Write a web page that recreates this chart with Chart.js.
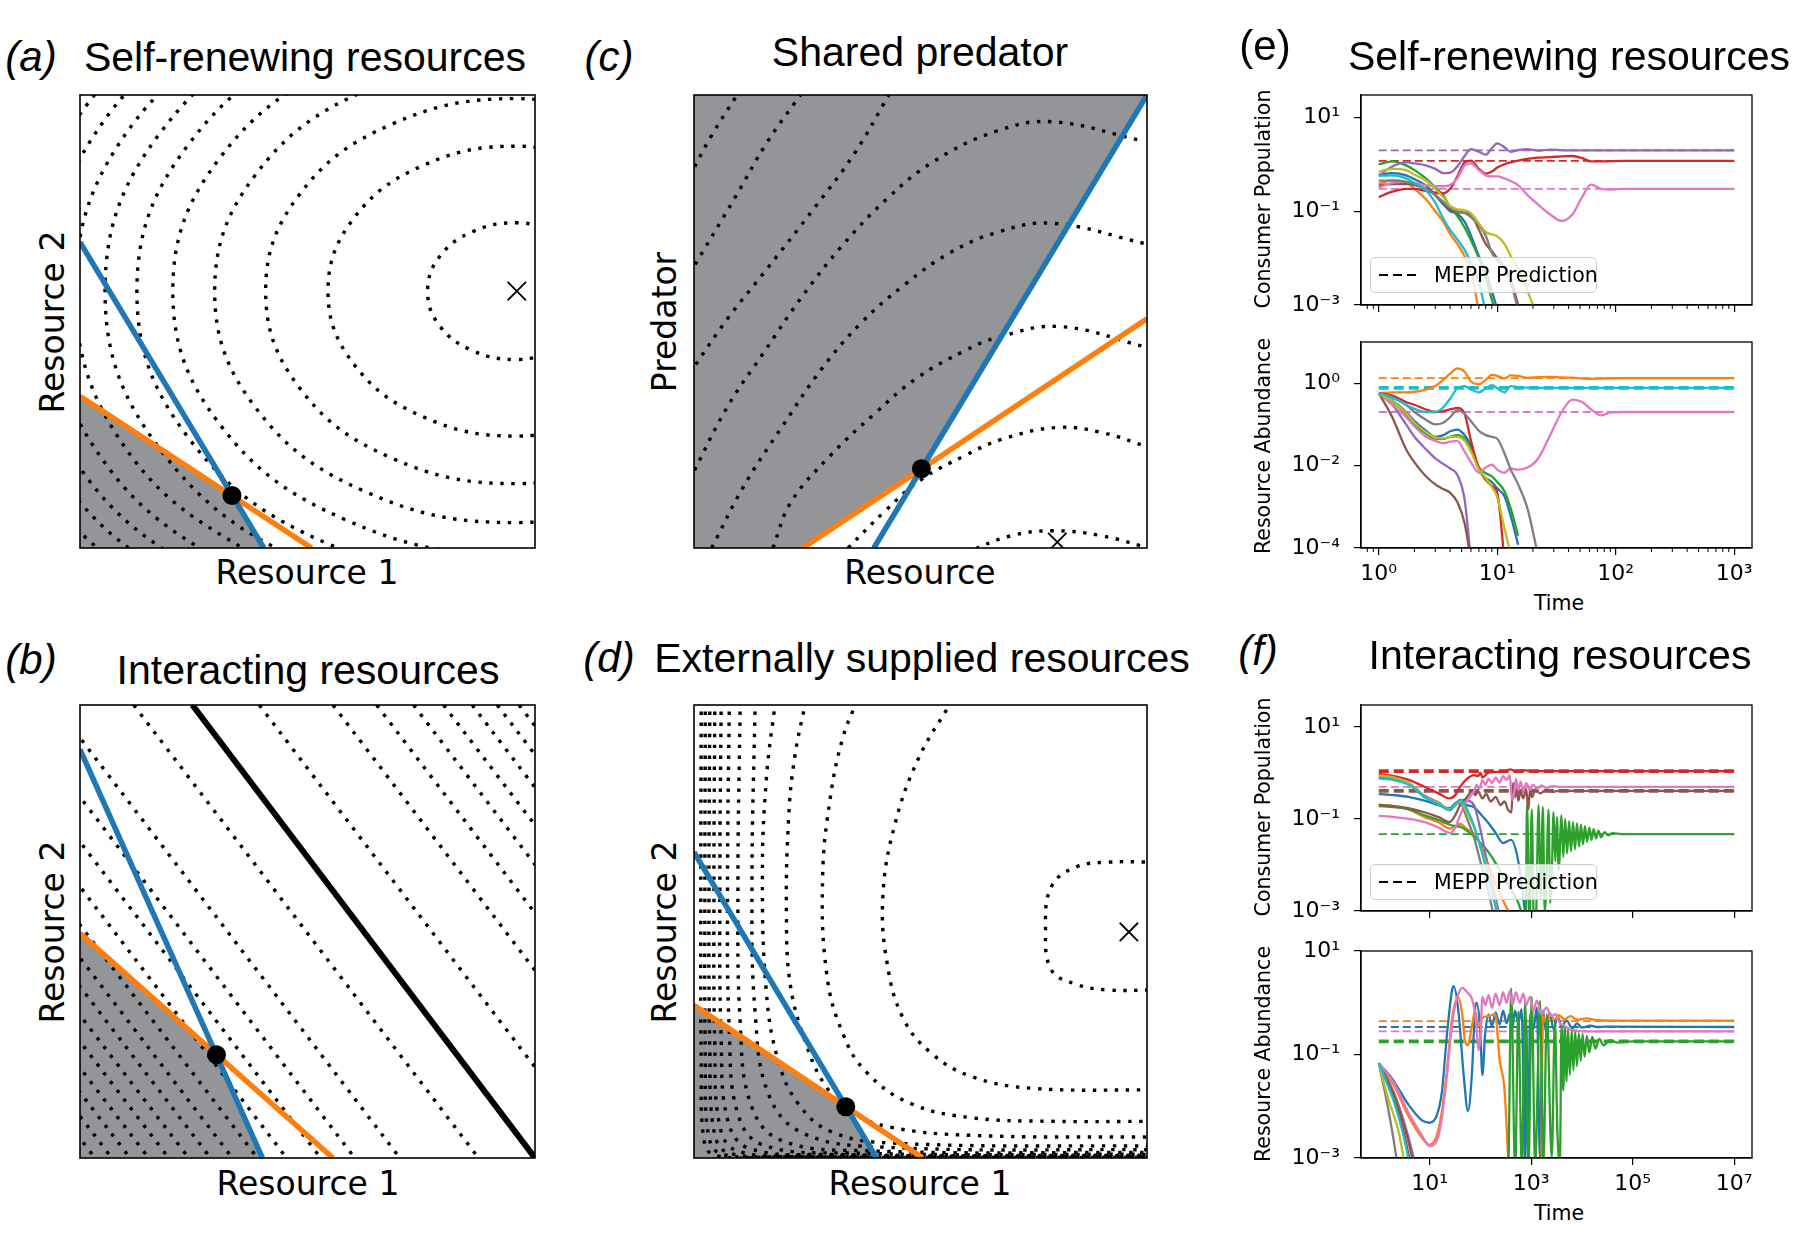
<!DOCTYPE html>
<html>
<head>
<meta charset="utf-8">
<title>Consumer-resource landscapes</title>
<script src="https://cdn.jsdelivr.net/npm/chart.js@4.4.0/dist/chart.umd.min.js"></script>
<style>
  html, body { margin: 0; padding: 0; background: #fff; }
  body { position: relative; width: 1801px; height: 1236px; overflow: hidden; font-family: 'DejaVu Sans', sans-serif; color: #000; }
  .box { position: absolute; }
  .txt { position: absolute; white-space: nowrap; transform: translate(-50%, -50%); line-height: 1; }
  .ttl { font-family: 'Liberation Sans', Arial, sans-serif; font-size: 41px; }
  .tag { font-family: 'Liberation Sans', Arial, sans-serif; font-size: 42px; font-style: italic; }
  .upright { font-style: normal; }
  .lab { font-size: 33px; }
  .sml { font-size: 20.5px; }
  .rot { transform: translate(-50%, -50%) rotate(-90deg); }
  .legend { position: absolute; background: rgba(255,255,255,0.8); border: 1px solid #cccccc; border-radius: 5px; box-sizing: border-box; font-size: 20.5px; z-index: 5; }
  .legend svg { position: absolute; left: 8px; top: 50%; margin-top: -2px; }
  .legend span { position: absolute; left: 63px; top: 50%; transform: translateY(-50%); white-space: nowrap; }
</style>
</head>
<body>

<div class="box" style="left:76px;top:91px;width:463px;height:461px"><canvas id="panelA"></canvas></div>
<div class="box" style="left:690px;top:91px;width:461px;height:461px"><canvas id="panelC"></canvas></div>
<div class="box" style="left:76px;top:701px;width:463px;height:461px"><canvas id="panelB"></canvas></div>
<div class="box" style="left:690px;top:701px;width:461px;height:461px"><canvas id="panelD"></canvas></div>
<div class="box" style="left:1271px;top:67px;width:493px;height:266px"><canvas id="panelEPop"></canvas></div>
<div class="box" style="left:1271px;top:314px;width:493px;height:274px"><canvas id="panelERes"></canvas></div>
<div class="box" style="left:1271px;top:677px;width:493px;height:262px"><canvas id="panelFPop"></canvas></div>
<div class="box" style="left:1271px;top:923px;width:493px;height:275px"><canvas id="panelFRes"></canvas></div>

<div class="txt tag" style="left:31px;top:57px">(a)</div>
<div class="txt ttl" style="left:305px;top:57px">Self-renewing resources</div>
<div class="txt tag" style="left:609px;top:57px">(c)</div>
<div class="txt ttl" style="left:920px;top:52px">Shared predator</div>
<div class="txt tag upright" style="left:1265px;top:46px">(e)</div>
<div class="txt ttl" style="left:1569px;top:56px">Self-renewing resources</div>
<div class="txt tag" style="left:31px;top:660px">(b)</div>
<div class="txt ttl" style="left:308px;top:670px">Interacting resources</div>
<div class="txt tag" style="left:609px;top:658px">(d)</div>
<div class="txt ttl" style="left:922px;top:658px">Externally supplied resources</div>
<div class="txt tag" style="left:1258px;top:651px">(f)</div>
<div class="txt ttl" style="left:1560px;top:655px">Interacting resources</div>

<div class="txt lab" style="left:307px;top:572px">Resource 1</div>
<div class="txt lab rot" style="left:52px;top:322px">Resource 2</div>
<div class="txt lab" style="left:920px;top:572px">Resource</div>
<div class="txt lab rot" style="left:664px;top:322px">Predator</div>
<div class="txt lab" style="left:308px;top:1183px">Resource 1</div>
<div class="txt lab rot" style="left:52px;top:932px">Resource 2</div>
<div class="txt lab" style="left:920px;top:1183px">Resource 1</div>
<div class="txt lab rot" style="left:664px;top:932px">Resource 2</div>
<div class="txt sml rot" style="left:1263px;top:199px">Consumer Population</div>
<div class="txt sml rot" style="left:1263px;top:446px">Resource Abundance</div>
<div class="txt sml" style="left:1559px;top:603px">Time</div>
<div class="txt sml rot" style="left:1263px;top:807px">Consumer Population</div>
<div class="txt sml rot" style="left:1263px;top:1054px">Resource Abundance</div>
<div class="txt sml" style="left:1559px;top:1213px">Time</div>

<div class="legend" style="left:1370px;top:257px;width:227px;height:36px">
  <svg width="42" height="4"><line x1="0" y1="2" x2="42" y2="2" stroke="#000" stroke-width="2" stroke-dasharray="9,5"/></svg>
  <span>MEPP Prediction</span>
</div>
<div class="legend" style="left:1370px;top:864px;width:227px;height:36px">
  <svg width="42" height="4"><line x1="0" y1="2" x2="42" y2="2" stroke="#000" stroke-width="2" stroke-dasharray="9,5"/></svg>
  <span>MEPP Prediction</span>
</div>

<script>
// ---- landscape panels (axes run 0..1 in both directions) ----
const aRegion = [[0, 0.335], [0.334, 0.116], [0.404, 0]];
const aBlue = [[0, 0.675], [0.404, 0]];
const aOrange = [[0, 0.335], [0.509, 0]];
const aPoint = [[0.334, 0.116]];
const aPeak = [[0.96, 0.567]];
const aContours = [
  [[1.058, 0.698], [0.96, 0.718], [0.862, 0.698], [0.790, 0.643], [0.764, 0.567], [0.790, 0.491], [0.862, 0.436], [0.96, 0.416], [1.058, 0.436]],
  [[1.168, 0.844], [0.96, 0.887], [0.753, 0.844], [0.601, 0.727], [0.545, 0.567], [0.601, 0.407], [0.753, 0.290], [0.96, 0.247], [1.168, 0.290]],
  [[1.236, 0.935], [0.96, 0.992], [0.684, 0.935], [0.482, 0.780], [0.408, 0.567], [0.482, 0.354], [0.684, 0.199], [0.96, 0.142], [1.236, 0.199]],
  [[1.292, 1.010], [0.96, 1.078], [0.628, 1.010], [0.385, 0.823], [0.296, 0.567], [0.385, 0.311], [0.628, 0.124], [0.96, 0.056], [1.292, 0.124]],
  [[1.338, 1.071], [0.96, 1.149], [0.582, 1.071], [0.305, 0.858], [0.204, 0.567], [0.305, 0.276], [0.582, 0.063], [0.96, -0.015], [1.338, 0.063]],
  [[0.96, 1.21], [0.543, 1.124], [0.237, 0.889], [0.125, 0.567], [0.237, 0.245], [0.543, 0.010], [0.96, -0.076]],
  [[0.96, 1.264], [0.508, 1.171], [0.176, 0.916], [0.055, 0.567], [0.176, 0.218], [0.508, -0.037], [0.96, -0.13]],
  [[0.475, 1.214], [0.120, 0.941], [-0.01, 0.567], [0.120, 0.193], [0.475, -0.080]],
  [[0.445, 1.254], [0.068, 0.964], [-0.07, 0.567], [0.068, 0.170], [0.445, -0.120]],
  [[0.418, 1.290], [0.020, 0.985], [-0.125, 0.567], [0.020, 0.149], [0.418, -0.156]],
  [[0.393, 1.324], [-0.023, 1.004], [-0.175, 0.567], [-0.023, 0.130], [0.393, -0.190]],
  [[0.368, 1.357], [-0.066, 1.023], [-0.225, 0.567], [-0.066, 0.111], [0.368, -0.223]],
  [[-0.105, 1.04], [-0.27, 0.567], [-0.105, 0.094], [0.345, -0.253]]
];

const bRegion = [[0, 0.496], [0.30, 0.228], [0.401, 0]];
const bBlue = [[0, 0.902], [0.401, 0]];
const bOrange = [[0, 0.496], [0.556, 0]];
const bPoint = [[0.30, 0.228]];
const bRidge = [[0.247, 1], [1.0, 0]];
// contour lines of panel b are straight: where each meets the top (y=1) and the bottom (y=0)
const bTopX = [1.01, 0.965, 0.917, 0.862, 0.799, 0.733, 0.652, 0.556, 0.394, 0.118, -0.055, -0.154, -0.229, -0.304, -0.368, -0.423, -0.471, -0.519, -0.563, -0.607, -0.648, -0.688, -0.725];
const bBottomX = [1.768, 1.723, 1.675, 1.620, 1.557, 1.491, 1.410, 1.314, 1.152, 0.876, 0.703, 0.604, 0.529, 0.454, 0.390, 0.335, 0.287, 0.239, 0.195, 0.151, 0.110, 0.070, 0.033];

const cRegion = [[0, 0], [0.24, 0], [0.502, 0.175], [1.0, 1.0]];
const cBlue = [[0.397, 0], [1.0, 1.0]];
const cOrange = [[0.24, 0], [1.0, 0.506]];
const cPoint = [[0.502, 0.175]];
const cPeak = [[0.802, 0.013]];
const cContours = [
  [[0.60, -0.01], [0.70, 0.027], [0.79, 0.038], [0.90, 0.027], [1.02, -0.005]],
  [[0.34, 0.0], [0.42, 0.08], [0.5, 0.15], [0.6, 0.205], [0.68, 0.24], [0.8, 0.266], [0.9, 0.255], [1.01, 0.22]],
  [[0.174, 0.0], [0.214, 0.101], [0.30, 0.203], [0.397, 0.295], [0.493, 0.376], [0.597, 0.435], [0.667, 0.464], [0.806, 0.489], [1.0, 0.443]],
  [[0.039, 0.0], [0.109, 0.135], [0.196, 0.27], [0.283, 0.397], [0.37, 0.498], [0.466, 0.582], [0.562, 0.65], [0.667, 0.696], [0.79, 0.717], [1.0, 0.671]],
  [[-0.01, 0.15], [0.074, 0.312], [0.153, 0.43], [0.24, 0.557], [0.327, 0.667], [0.423, 0.768], [0.527, 0.852], [0.667, 0.92], [0.79, 0.941], [0.99, 0.899]],
  [[-0.01, 0.385], [0.074, 0.506], [0.161, 0.616], [0.266, 0.751], [0.353, 0.869], [0.43, 1.0]],
  [[-0.01, 0.605], [0.092, 0.776], [0.161, 0.895], [0.235, 1.0]],
  [[-0.01, 0.82], [0.039, 0.911], [0.095, 1.0]]
];

const dRegion = [[0, 0.337], [0.335, 0.113], [0.403, 0]];
const dBlue = [[0, 0.675], [0.403, 0]];
const dOrange = [[0, 0.337], [0.505, 0]];
const dPoint = [[0.335, 0.113]];
const dPeak = [[0.96, 0.499]];
const dContours = [
  [[1.02, 0.653], [0.913, 0.653], [0.842, 0.642], [0.789, 0.599], [0.776, 0.505], [0.789, 0.415], [0.842, 0.384], [0.913, 0.371], [1.02, 0.371]],
  [[0.57, 1.01], [0.496, 0.883], [0.443, 0.735], [0.417, 0.579], [0.426, 0.432], [0.461, 0.31], [0.523, 0.232], [0.612, 0.18], [0.745, 0.154], [1.02, 0.15]],
  [[0.36, 1.01], [0.328, 0.926], [0.301, 0.796], [0.284, 0.623], [0.293, 0.406], [0.328, 0.276], [0.381, 0.189], [0.479, 0.12], [0.612, 0.089], [0.789, 0.081], [1.02, 0.081]],
  [[0.247, 1.01], [0.222, 0.883], [0.209, 0.753], [0.204, 0.536], [0.213, 0.38], [0.248, 0.25], [0.29, 0.16], [0.346, 0.102], [0.434, 0.068], [0.612, 0.05], [1.02, 0.046]],
  [[0.18, 1.01], [0.16, 0.84], [0.151, 0.623], [0.16, 0.363], [0.186, 0.215], [0.23, 0.12], [0.301, 0.059], [0.434, 0.033], [1.02, 0.026]],
  [[0.135, 1.01], [0.128, 0.6], [0.135, 0.32], [0.165, 0.14], [0.24, 0.055], [0.42, 0.024], [1.02, 0.018]],
  [[0.102, 1.01], [0.097, 0.6], [0.102, 0.3], [0.125, 0.12], [0.19, 0.04], [0.38, 0.016], [1.02, 0.012]],
  [[0.078, 1.01], [0.074, 0.6], [0.078, 0.28], [0.096, 0.1], [0.15, 0.03], [0.34, 0.011], [1.02, 0.008]],
  [[0.06, 1.01], [0.057, 0.6], [0.06, 0.26], [0.074, 0.085], [0.12, 0.022], [0.3, 0.008], [1.02, 0.006]],
  [[0.046, 1.01], [0.044, 0.6], [0.046, 0.25], [0.057, 0.07], [0.095, 0.016], [0.26, 0.006], [1.02, 0.0045]],
  [[0.035, 1.01], [0.033, 0.6], [0.035, 0.24], [0.044, 0.06], [0.075, 0.012], [0.22, 0.004], [1.02, 0.003]],
  [[0.025, 1.01], [0.024, 0.6], [0.025, 0.22], [0.032, 0.05], [0.06, 0.009], [0.2, 0.003], [1.02, 0.002]],
  [[0.016, 1.01], [0.015, 0.6], [0.016, 0.2], [0.022, 0.04], [0.045, 0.006], [0.18, 0.002], [1.02, 0.001]]
];

// ---- (e) self-renewing resources: shared time grid ----
const eTime = [1, 1.3, 1.7, 2, 2.5, 3, 3.5, 4, 4.6, 5.3, 6, 7, 8, 9, 10, 11.5, 13, 15, 18, 22, 28, 35, 43, 52, 62, 75, 90, 120, 200, 1000];
const ePopBlue   = [0.6, 0.65, 0.58, 0.48, 0.35, 0.22, 0.14, 0.1, 0.088, 0.06, 0.03, 0.011, 0.005, 0.002, 0.0008];
const ePopOrange = [0.38, 0.46, 0.42, 0.3, 0.18, 0.1, 0.06, 0.033, 0.02, 0.011, 0.0055, 0.0007];
const ePopGreen  = [1.0, 1.15, 0.95, 0.75, 0.5, 0.32, 0.22, 0.12, 0.08, 0.045, 0.024, 0.01, 0.004, 0.0013, 0.0005];
const ePopRed    = [0.2, 0.26, 0.3, 0.3, 0.27, 0.25, 0.24, 0.3, 0.55, 1.1, 1.2, 0.8, 0.63, 0.7, 0.85, 1.0, 1.1, 1.2, 1.3, 1.38, 1.42, 1.48, 1.5, 1.35, 1.15, 1.15, 1.17, 1.18, 1.18, 1.18];
const ePopPurple = [0.57, 0.9, 1.1, 1.05, 0.95, 0.8, 0.65, 0.66, 0.9, 1.5, 2.1, 1.85, 1.6, 2.2, 2.8, 2.3, 1.85, 2.0, 2.1, 1.95, 2.05, 2.0, 1.98, 1.98, 1.98, 1.98, 1.98, 1.98, 1.98, 1.98];
const ePopBrown  = [0.35, 0.38, 0.38, 0.36, 0.3, 0.22, 0.15, 0.11, 0.095, 0.092, 0.085, 0.04, 0.02, 0.014, 0.01, 0.0065, 0.0035, 0.001, 0.0002];
const ePopPink   = [0.32, 0.4, 0.42, 0.4, 0.36, 0.34, 0.34, 0.36, 0.5, 0.95, 1.05, 0.75, 0.58, 0.55, 0.55, 0.5, 0.44, 0.36, 0.22, 0.14, 0.085, 0.062, 0.085, 0.2, 0.37, 0.3, 0.29, 0.3, 0.3, 0.3];
const ePopGray   = [0.45, 0.45, 0.42, 0.38, 0.3, 0.22, 0.16, 0.12, 0.1, 0.092, 0.075, 0.05, 0.03, 0.013, 0.009, 0.006, 0.003, 0.0008];
const ePopOlive  = [0.7, 0.8, 0.75, 0.6, 0.45, 0.3, 0.2, 0.13, 0.11, 0.105, 0.09, 0.055, 0.036, 0.032, 0.029, 0.02, 0.011, 0.006, 0.002, 0.0005];
const ePopCyan   = [0.57, 0.58, 0.5, 0.4, 0.28, 0.15, 0.07, 0.04, 0.025, 0.015, 0.008, 0.003, 0.0007];
const ePopPredicted = { purple: 1.98, red: 1.18, pink: 0.30 };

const eResBlue   = [0.57, 0.38, 0.2, 0.12, 0.07, 0.05, 0.055, 0.068, 0.075, 0.055, 0.03, 0.008, 0.005, 0.004, 0.0028, 0.0018, 0.0006, 0.00012];
const eResOrange = [0.57, 0.6, 0.6, 0.62, 0.7, 0.85, 1.2, 1.7, 2.3, 1.9, 1.1, 0.95, 1.2, 1.6, 1.5, 1.3, 1.55, 1.5, 1.35, 1.4, 1.42, 1.38, 1.36, 1.3, 1.28, 1.3, 1.32, 1.33, 1.33, 1.33];
const eResGreen  = [0.57, 0.36, 0.18, 0.1, 0.06, 0.045, 0.044, 0.05, 0.055, 0.045, 0.025, 0.009, 0.0065, 0.0055, 0.004, 0.0024, 0.0009, 0.0002];
const eResRed    = [0.57, 0.5, 0.35, 0.3, 0.23, 0.2, 0.21, 0.23, 0.25, 0.18, 0.04, 0.0085, 0.0045, 0.0032, 0.0022, 0.00005];
const eResPurple = [0.57, 0.3, 0.1, 0.05, 0.025, 0.015, 0.011, 0.0085, 0.006, 0.0015, 0.00005];
const eResBrown  = [0.57, 0.15, 0.025, 0.012, 0.0055, 0.0035, 0.0027, 0.0022, 0.0013, 0.0004, 0.00005];
const eResPink   = [0.57, 0.3, 0.15, 0.09, 0.05, 0.04, 0.035, 0.038, 0.04, 0.022, 0.012, 0.0067, 0.009, 0.0105, 0.008, 0.0067, 0.0085, 0.008, 0.009, 0.0145, 0.055, 0.2, 0.4, 0.35, 0.23, 0.165, 0.195, 0.2, 0.2, 0.2];
const eResGray   = [0.57, 0.45, 0.3, 0.2, 0.13, 0.1, 0.11, 0.15, 0.22, 0.18, 0.12, 0.07, 0.055, 0.05, 0.045, 0.02, 0.008, 0.0035, 0.0009, 0.00007];
const eResOlive  = [0.57, 0.37, 0.19, 0.11, 0.065, 0.048, 0.046, 0.05, 0.05, 0.04, 0.022, 0.008, 0.005, 0.003, 0.0017, 0.0003, 0.00007];
const eResCyan   = [0.57, 0.45, 0.3, 0.24, 0.2, 0.2, 0.26, 0.42, 0.75, 0.85, 0.7, 0.6, 0.75, 0.9, 0.75, 0.6, 0.85, 0.8, 0.78, 0.77, 0.77, 0.77, 0.77, 0.77, 0.77, 0.77, 0.77, 0.77, 0.77, 0.77];
const eResPredicted = { orange: 1.33, cyan: 0.77, pink: 0.2 };

// ---- (f) interacting resources ----
const fTimeEarly = [1, 2, 4, 8, 15, 25, 32, 40, 55, 75, 100, 140, 200, 280, 400, 560, 800];
const fPopBlue   = [0.35, 0.33, 0.3, 0.25, 0.2, 0.17, 0.22, 0.25, 0.2, 0.18, 0.13, 0.085, 0.05, 0.03, 0.035, 0.012, 0.0006];
const fPopOrange = [0.2, 0.19, 0.16, 0.11, 0.085, 0.062, 0.07, 0.078, 0.06, 0.048, 0.029, 0.011, 0.004, 0.0017, 0.0008];
const fPopPurple = [0.82, 0.75, 0.6, 0.32, 0.23, 0.16, 0.21, 0.26, 0.25, 0.2, 0.06, 0.01, 0.002, 0.0003];
const fPopGray   = [0.79, 0.72, 0.55, 0.3, 0.21, 0.155, 0.2, 0.22, 0.1, 0.04, 0.012, 0.003, 0.0005];
const fPopOlive  = [0.89, 0.79, 0.59, 0.3, 0.22, 0.16, 0.19, 0.255, 0.13, 0.068, 0.025, 0.008, 0.0014, 0.0002];
const fPopCyan   = [0.76, 0.7, 0.55, 0.3, 0.21, 0.155, 0.21, 0.26, 0.16, 0.07, 0.025, 0.006, 0.0012, 0.0002];
// [time, value] pairs for the long-lived series
const fPopRed = [[1, 0.95], [2, 0.85], [4, 0.7], [8, 0.5], [15, 0.36], [25, 0.28], [32, 0.33], [40, 0.5], [55, 0.75], [75, 0.9], [90, 0.85], [100, 1.0], [110, 0.8], [140, 1.0], [200, 1.05], [300, 1.1], [400, 1.2], [500, 1.05], [700, 1.15], [1000, 1.1], [1e4, 1.1], [1e7, 1.1]];
const fPopPink = [[1, 0.117], [2, 0.11], [4, 0.1], [8, 0.085], [15, 0.065], [25, 0.05], [32, 0.065], [40, 0.12], [55, 0.25], [75, 0.4], [85, 0.55], [95, 0.45], [110, 0.7], [125, 0.55], [145, 0.75], [170, 0.6], [200, 0.8], [240, 0.62], [280, 0.85], [330, 0.7], [380, 0.9], [420, 0.26], [460, 0.35], [500, 0.75], [560, 0.42], [620, 0.65], [700, 0.4], [800, 0.6], [950, 0.43], [1100, 0.56], [1300, 0.45], [1600, 0.54], [2000, 0.47], [2600, 0.52], [3500, 0.5], [1e7, 0.5]];
const fPopBrown = [[1, 0.205], [2, 0.19], [4, 0.17], [8, 0.14], [15, 0.11], [25, 0.086], [32, 0.12], [40, 0.2], [55, 0.3], [70, 0.42], [80, 0.33], [90, 0.4], [110, 0.28], [130, 0.35], [160, 0.24], [200, 0.3], [250, 0.2], [300, 0.24], [350, 0.16], [410, 0.14], [440, 0.6], [480, 0.3], [520, 0.45], [560, 0.25], [620, 0.4], [700, 0.28], [800, 0.45], [880, 0.16], [950, 0.42], [1050, 0.3], [1200, 0.44], [1500, 0.36], [2000, 0.43], [2600, 0.39], [3500, 0.41], [1e7, 0.41]];
const fPopGreen = [[1, 0.19], [2, 0.18], [4, 0.16], [8, 0.12], [15, 0.095], [25, 0.075], [32, 0.07], [40, 0.068], [55, 0.055], [75, 0.042], [100, 0.03], [140, 0.02], [200, 0.011], [280, 0.0055], [400, 0.003], [560, 0.0015], [700, 0.0007], [780, 0.0005], [830, 0.2], [930, 0.0005], [1030, 0.16], [1130, 0.0006], [1250, 0.0008], [1400, 0.2], [1550, 0.002], [1700, 0.18], [1850, 0.001], [2000, 0.004], [2200, 0.16], [2380, 0.0015], [2560, 0.006], [2760, 0.14], [3000, 0.012], [3220, 0.11], [3500, 0.008], [3960, 0.12], [4300, 0.015], [4700, 0.1], [5100, 0.018], [5600, 0.09], [6100, 0.02], [6700, 0.085], [7300, 0.022], [8000, 0.08], [8800, 0.025], [9600, 0.075], [10500, 0.028], [11500, 0.07], [12600, 0.032], [14000, 0.065], [15500, 0.035], [17000, 0.06], [19000, 0.038], [21000, 0.056], [24000, 0.04], [28000, 0.052], [33000, 0.044], [40000, 0.049], [60000, 0.047], [1e5, 0.047], [1e7, 0.047]];
const fPopPredicted = { red: 1.1, pink: 0.5, brown: 0.41, green: 0.047 };

const fResGray   = [[1, 0.068], [1.5, 0.01], [2, 0.002], [2.4, 0.0006]];
const fResOlive  = [[1, 0.068], [1.5, 0.015], [2.5, 0.003], [3.2, 0.0008]];
const fResCyan   = [[1, 0.068], [2, 0.012], [3, 0.003], [4, 0.0008]];
const fResRed    = [[1, 0.068], [2, 0.013], [3, 0.0035], [4.2, 0.0008]];
const fResBrown  = [[1, 0.068], [2, 0.016], [3.5, 0.003], [4.8, 0.0008]];
const fResPurple = [[1, 0.068], [2, 0.018], [3.5, 0.0035], [5.2, 0.0008]];
const fResBlue = [[1, 0.068], [1.8, 0.035], [3.9, 0.0105], [7, 0.0054], [10, 0.0048], [14, 0.0068], [17.5, 0.019], [22, 0.24], [27.5, 1.67], [30, 2.09], [37, 0.68], [47, 0.04], [57, 0.0081], [68, 0.04], [79, 0.79], [85, 1.0], [99, 0.32], [110, 0.04], [124, 0.24], [145, 0.59], [170, 0.35], [200, 0.65], [240, 0.38], [280, 0.7], [330, 0.4], [380, 0.6], [430, 0.33], [480, 0.7], [560, 0.4], [650, 0.75], [760, 0.0008], [800, 0.5], [880, 0.0008], [950, 0.6], [1100, 0.3], [1300, 0.8], [1500, 0.0009], [1700, 0.7], [2000, 0.25], [2300, 0.65], [2800, 0.3], [3300, 0.55], [4000, 0.35], [5000, 0.45], [6500, 0.32], [8000, 0.4], [10000, 0.33], [15000, 0.36], [20000, 0.34], [30000, 0.345], [1e7, 0.34]];
const fResOrange = [[1, 0.068], [2, 0.025], [4, 0.006], [7, 0.0025], [10, 0.0018], [14, 0.0028], [17.5, 0.008], [22, 0.05], [27, 0.4], [32, 1.0], [37, 1.24], [44, 0.6], [50, 0.18], [57, 0.15], [68, 0.35], [79, 0.7], [92, 0.35], [107, 0.5], [145, 0.55], [196, 0.6], [240, 0.08], [300, 0.02], [357, 0.0008], [400, null], [1500, null], [1600, 0.0008], [1700, 0.55], [2000, 0.42], [2400, 0.6], [2900, 0.46], [3500, 0.58], [4500, 0.48], [6000, 0.55], [8000, 0.47], [12000, 0.5], [20000, 0.46], [30000, 0.45], [1e7, 0.45]];
const fResPink = [[1, 0.068], [2, 0.028], [4, 0.007], [7, 0.0028], [10, 0.0017], [14, 0.0022], [17.5, 0.006], [22, 0.04], [27, 0.3], [32, 0.9], [37, 1.5], [44, 1.94], [55, 1.6], [68, 1.2], [79, 0.6], [85, 0.3], [92, 0.12], [100, 0.2], [110, 1.3], [125, 0.9], [145, 1.4], [170, 0.8], [200, 1.5], [240, 0.9], [280, 1.6], [330, 1.0], [380, 1.7], [430, 0.9], [500, 1.6], [600, 1.0], [700, 1.5], [800, 0.9], [950, 1.3], [1100, 0.7], [1300, 1.1], [1600, 0.6], [2000, 0.8], [2500, 0.55], [3000, 0.6], [3700, 0.4], [4500, 0.36], [6000, 0.3], [8000, 0.29], [10000, 0.28], [1e7, 0.28]];
const fResGreen = [[1, 0.068], [2, 0.017], [3.5, 0.003], [5, 0.0008], [6, null], [330, 0.0005], [357, 0.0008], [405, 1.9], [485, 0.0005], [560, 0.68], [656, 0.0006], [763, 1.07], [887, 0.0006], [1030, 1.3], [1200, 0.0007], [1500, 1.07], [1750, 0.0008], [2040, 0.6], [2550, 0.001], [2940, 0.45], [3300, 0.003], [3700, 0.0008], [3960, 0.38], [4300, 0.02], [4600, 0.35], [5000, 0.03], [5340, 0.32], [5800, 0.04], [6300, 0.3], [6800, 0.05], [7400, 0.28], [8000, 0.06], [8700, 0.26], [9500, 0.075], [10300, 0.25], [11300, 0.09], [12500, 0.23], [14000, 0.11], [16000, 0.22], [18500, 0.13], [22000, 0.2], [27000, 0.15], [35000, 0.19], [50000, 0.17], [1e5, 0.18], [1e7, 0.18]];
const fResPredicted = { orange: 0.44, blue: 0.34, pink: 0.28, green: 0.18 };

// ---- tick positions ----
const eTicksX = [1, 10, 100, 1000];
const eMinorX = [0.8, 0.9, 2, 3, 4, 5, 6, 7, 8, 9, 20, 30, 40, 50, 60, 70, 80, 90, 200, 300, 400, 500, 600, 700, 800, 900];
const ePopTicksY = [0.001, 0.1, 10];
const eResTicksY = [0.0001, 0.01, 1];
const fTicksX = [10, 1000, 1e5, 1e7];
const fTicksY = [0.001, 0.1, 10];

const C = {
  blue: '#1f77b4', orange: '#ff7f0e', green: '#2ca02c', red: '#d62728', purple: '#9467bd',
  brown: '#8c564b', pink: '#e377c2', gray: '#7f7f7f', olive: '#bcbd22', cyan: '#17becf'
};
const SHADE = 'rgb(147,149,152)';

Chart.defaults.font.family = "'DejaVu Sans', sans-serif";
Chart.defaults.color = '#000';
Chart.defaults.animation = false;

// box around the plotting area plus short minor ticks on the time axis
const framePlugin = {
  id: 'frame',
  afterDatasetsDraw(chart, args, opts) {
    const { ctx, chartArea: a } = chart;
    ctx.save();
    ctx.strokeStyle = '#000';
    ctx.lineWidth = opts.width || 1.3;
    ctx.strokeRect(a.left, a.top, a.right - a.left, a.bottom - a.top);
    if (opts.minor) {
      const x = chart.scales.x;
      ctx.lineWidth = 1;
      opts.minor.forEach(v => {
        const p = x.getPixelForValue(v);
        ctx.beginPath();
        ctx.moveTo(p, a.bottom);
        ctx.lineTo(p, a.bottom + 4);
        ctx.stroke();
      });
    }
    ctx.restore();
  }
};

const xy = arr => arr.map(q => ({ x: q[0], y: q[1] }));

function landscape(id, p) {
  const datasets = [
    { data: xy(p.region), fill: p.fillTo, backgroundColor: SHADE, borderColor: 'rgba(0,0,0,0)', borderWidth: 0, tension: 0, order: 30 }
  ];
  p.contours.forEach(c => datasets.push({
    data: xy(c), borderColor: '#000', borderWidth: 3.4, borderDash: [3.4, 7.6], tension: 0.4, fill: false, order: 20
  }));
  if (p.ridge) datasets.push({ data: xy(p.ridge), borderColor: '#000', borderWidth: 6, fill: false, order: 10 });
  datasets.push({ data: xy(p.orange), borderColor: C.orange, borderWidth: 5.5, fill: false, order: 6 });
  datasets.push({ data: xy(p.blue), borderColor: C.blue, borderWidth: 5.5, fill: false, order: 5 });
  datasets.push({ data: xy(p.point), showLine: false, pointRadius: 9.5, pointBackgroundColor: '#000', pointBorderWidth: 0, order: 2 });
  if (p.peak) datasets.push({ data: xy(p.peak), showLine: false, pointStyle: 'crossRot', pointRadius: 13, pointBorderColor: '#000', pointBorderWidth: 1.8, clip: 0, order: 1 });

  return new Chart(document.getElementById(id), {
    type: 'line',
    data: { datasets },
    options: {
      responsive: true,
      maintainAspectRatio: false,
      layout: { padding: 4, autoPadding: false },
      elements: { point: { radius: 0 }, line: { capBezierPoints: false, borderCapStyle: 'butt' } },
      plugins: { legend: { display: false }, tooltip: { enabled: false }, frame: { width: 1.6 } },
      scales: {
        x: { type: 'linear', min: 0, max: 1, display: false },
        y: { type: 'linear', min: 0, max: 1, display: false }
      }
    },
    plugins: [framePlugin]
  });
}

landscape('panelA', { region: aRegion, fillTo: 'origin', contours: aContours, blue: aBlue, orange: aOrange, point: aPoint, peak: aPeak });
landscape('panelB', {
  region: bRegion, fillTo: 'origin',
  contours: bTopX.map((t, i) => [[t, 1], [bBottomX[i], 0]]),
  ridge: bRidge, blue: bBlue, orange: bOrange, point: bPoint
});
landscape('panelC', { region: cRegion, fillTo: 'end', contours: cContours, blue: cBlue, orange: cOrange, point: cPoint, peak: cPeak });
landscape('panelD', { region: dRegion, fillTo: 'origin', contours: dContours, blue: dBlue, orange: dOrange, point: dPoint, peak: dPeak });

// ---- time series ----
const SUP = { '-': '\u207B', '0': '\u2070', '1': '\u00B9', '2': '\u00B2', '3': '\u00B3', '4': '\u2074', '5': '\u2075', '6': '\u2076', '7': '\u2077', '8': '\u2078', '9': '\u2079' };
function powLabel(v) {
  const e = Math.round(Math.log10(v));
  return '10' + String(e).split('').map(ch => SUP[ch]).join('');
}

const ORDER = ['blue', 'orange', 'green', 'red', 'purple', 'brown', 'pink', 'gray', 'olive', 'cyan'];
function solid(points, name) {
  return { data: points, borderColor: C[name], borderWidth: 2.3, fill: false, order: 50 - ORDER.indexOf(name) };
}
const onGrid = (times, vals) => vals.map((v, k) => ({ x: times[k], y: v }));
function predicted(v, name, t0, t1, thick) {
  return {
    data: [{ x: t0, y: v }, { x: t1, y: v }], borderColor: C[name],
    borderWidth: thick ? 3.8 : 1.8, borderDash: thick ? [10, 5] : [8, 4], fill: false, order: 100
  };
}

// the y tick labels need about 28px of room above and below the plotting area
const PAD = 28;
function timeChart(id, cfg) {
  return new Chart(document.getElementById(id), {
    type: 'line',
    data: { datasets: cfg.datasets },
    options: {
      responsive: true,
      maintainAspectRatio: false,
      layout: { padding: { top: PAD, right: 12, left: 0, bottom: 0 }, autoPadding: false },
      elements: { point: { radius: 0 }, line: { cubicInterpolationMode: 'monotone', capBezierPoints: false } },
      plugins: { legend: { display: false }, tooltip: { enabled: false }, frame: { width: 1.3, minor: cfg.minor } },
      scales: {
        x: {
          type: 'logarithmic', min: cfg.xmin, max: cfg.xmax, bounds: 'data',
          afterBuildTicks: s => { s.ticks = cfg.xticks.map(v => ({ value: v })); },
          afterFit: s => { s.height = cfg.xlabels ? 40 : PAD; },
          ticks: { display: cfg.xlabels, callback: v => powLabel(v), autoSkip: false, maxRotation: 0, padding: 6, font: { size: 22 } },
          grid: { drawOnChartArea: false, tickLength: 7, color: '#000', lineWidth: 1.2 },
          border: { color: '#000', width: 1.3 }
        },
        y: {
          type: 'logarithmic', min: cfg.ymin, max: cfg.ymax, bounds: 'data',
          afterBuildTicks: s => { s.ticks = cfg.yticks.map(v => ({ value: v })); },
          afterFit: s => { s.width = 90; },
          ticks: { callback: v => powLabel(v), autoSkip: false, padding: 14, font: { size: 22 } },
          grid: { drawOnChartArea: false, tickLength: 7, color: '#000', lineWidth: 1.2 },
          border: { color: '#000', width: 1.3 }
        }
      }
    },
    plugins: [framePlugin]
  });
}

const eRange = { xmin: 0.708, xmax: 1412, xticks: eTicksX, minor: eMinorX };
timeChart('panelEPop', Object.assign({}, eRange, {
  xlabels: false, ymin: 0.001, ymax: 30, yticks: ePopTicksY,
  datasets: [
    predicted(ePopPredicted.purple, 'purple', 1, 1000),
    predicted(ePopPredicted.red, 'red', 1, 1000),
    predicted(ePopPredicted.pink, 'pink', 1, 1000),
    solid(onGrid(eTime, ePopBlue), 'blue'),
    solid(onGrid(eTime, ePopOrange), 'orange'),
    solid(onGrid(eTime, ePopGreen), 'green'),
    solid(onGrid(eTime, ePopRed), 'red'),
    solid(onGrid(eTime, ePopPurple), 'purple'),
    solid(onGrid(eTime, ePopBrown), 'brown'),
    solid(onGrid(eTime, ePopPink), 'pink'),
    solid(onGrid(eTime, ePopGray), 'gray'),
    solid(onGrid(eTime, ePopOlive), 'olive'),
    solid(onGrid(eTime, ePopCyan), 'cyan')
  ]
}));
timeChart('panelERes', Object.assign({}, eRange, {
  xlabels: true, ymin: 0.0001, ymax: 10, yticks: eResTicksY,
  datasets: [
    predicted(eResPredicted.orange, 'orange', 1, 1000),
    predicted(eResPredicted.cyan, 'cyan', 1, 1000, true),
    predicted(eResPredicted.pink, 'pink', 1, 1000),
    solid(onGrid(eTime, eResBlue), 'blue'),
    solid(onGrid(eTime, eResOrange), 'orange'),
    solid(onGrid(eTime, eResGreen), 'green'),
    solid(onGrid(eTime, eResRed), 'red'),
    solid(onGrid(eTime, eResPurple), 'purple'),
    solid(onGrid(eTime, eResBrown), 'brown'),
    solid(onGrid(eTime, eResPink), 'pink'),
    solid(onGrid(eTime, eResGray), 'gray'),
    solid(onGrid(eTime, eResOlive), 'olive'),
    solid(onGrid(eTime, eResCyan), 'cyan')
  ]
}));

const fRange = { xmin: 0.4467, xmax: 2.239e7, xticks: fTicksX, minor: null, ymin: 0.001, yticks: fTicksY };
timeChart('panelFPop', Object.assign({}, fRange, {
  xlabels: false, ymax: 30,
  datasets: [
    predicted(fPopPredicted.red, 'red', 1, 1e7, true),
    predicted(fPopPredicted.pink, 'pink', 1, 1e7),
    predicted(fPopPredicted.brown, 'brown', 1, 1e7, true),
    predicted(fPopPredicted.green, 'green', 1, 1e7),
    solid(onGrid(fTimeEarly, fPopBlue), 'blue'),
    solid(onGrid(fTimeEarly, fPopOrange), 'orange'),
    solid(xy(fPopGreen), 'green'),
    solid(xy(fPopRed), 'red'),
    solid(onGrid(fTimeEarly, fPopPurple), 'purple'),
    solid(xy(fPopBrown), 'brown'),
    solid(xy(fPopPink), 'pink'),
    solid(onGrid(fTimeEarly, fPopGray), 'gray'),
    solid(onGrid(fTimeEarly, fPopOlive), 'olive'),
    solid(onGrid(fTimeEarly, fPopCyan), 'cyan')
  ]
}));
timeChart('panelFRes', Object.assign({}, fRange, {
  xlabels: true, ymax: 10,
  datasets: [
    predicted(fResPredicted.orange, 'orange', 1, 1e7),
    predicted(fResPredicted.blue, 'blue', 1, 1e7),
    predicted(fResPredicted.pink, 'pink', 1, 1e7),
    predicted(fResPredicted.green, 'green', 1, 1e7, true),
    solid(xy(fResBlue), 'blue'),
    solid(xy(fResOrange), 'orange'),
    solid(xy(fResGreen), 'green'),
    solid(xy(fResRed), 'red'),
    solid(xy(fResPurple), 'purple'),
    solid(xy(fResBrown), 'brown'),
    solid(xy(fResPink), 'pink'),
    solid(xy(fResGray), 'gray'),
    solid(xy(fResOlive), 'olive'),
    solid(xy(fResCyan), 'cyan')
  ]
}));
</script>
</body>
</html>
